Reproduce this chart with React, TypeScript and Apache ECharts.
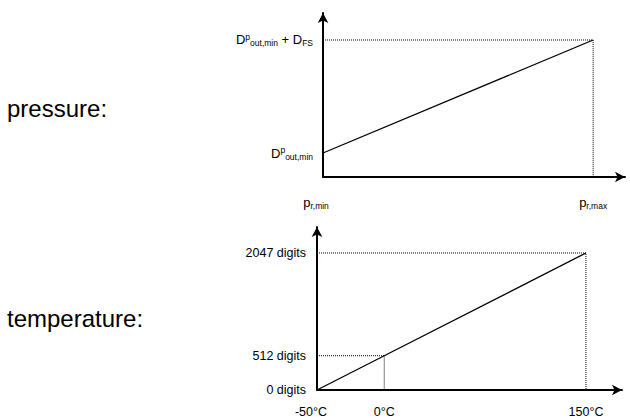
import React, { useEffect, useRef } from "react";
import * as echarts from "echarts";

// Section captions
const sectionLabels = ["pressure:", "temperature:"];

// Pressure chart (schematic units: x in span of p_r, y in span of D_FS)
const pressureXValues = [0, 1]; // p_r,min , p_r,max
const pressureXLabels = ["{m|p}{subL|r,min}", "{m|p}{sub|r,max}"];
const pressureYValues = [0.175, 1]; // D^p_out,min , D^p_out,min + D_FS
const pressureYLabels = [
  "{m|D}{sup|p}{sub|out,min}",
  "{m|D}{sup|p}{sub|out,min}{m| + D}{sub|FS}",
];
const pressureLineX = [0, 1];
const pressureLineY = [0.175, 1];

// Temperature chart
const tempXValues = [-50, 0, 150];
const tempXLabels = ["-50°C", "0°C", "150°C"];
const tempYValues = [0, 512, 2047];
const tempYLabels = ["0 digits", "512 digits", "2047 digits"];
const tempLineX = [-50, 0, 150];
const tempLineY = [0, 512, 2047];

const FONT = "'Liberation Sans', Arial, Helvetica, sans-serif";

export default function App() {
  const ref = useRef<HTMLDivElement>(null);

  useEffect(() => {
    document.body.style.margin = "0";
    const chart = echarts.init(ref.current!, null, { renderer: "svg" });

    const axisLine = {
      show: true,
      onZero: false,
      symbol: ["none", "arrow"],
      symbolSize: [8, 10],
      lineStyle: { color: "#000", width: 2 },
    };

    const rich = {
      m: { fontSize: 13, color: "#000", fontFamily: FONT },
      sup: { fontSize: 8.5, color: "#000", fontFamily: FONT, padding: [0, 0, 6, 0] },
      sub: { fontSize: 8.5, color: "#000", fontFamily: FONT, padding: [7, 0, 0, 0] },
      subL: { fontSize: 8.5, color: "#000", fontFamily: FONT, padding: [7, 14, 0, 0] },
      t: { fontSize: 12.5, color: "#000", fontFamily: FONT },
      tL: { fontSize: 12.5, color: "#000", fontFamily: FONT, padding: [0, 12, 0, 0] },
    };

    const dotted = { color: "#000", width: 1, type: "dotted" as const };
    const solid = { color: "#000", width: 1.3 };

    const pLine = pressureLineX.map((x, i) => [x, pressureLineY[i]]);
    const tLine = tempLineX.map((x, i) => [x, tempLineY[i]]);

    const pTop = pressureYValues[1];
    const pMaxX = pressureXValues[1];

    chart.setOption({
      animation: false,
      textStyle: { fontFamily: FONT, color: "#000" },
      graphic: [
        {
          type: "text",
          left: 7,
          top: 96,
          style: { text: sectionLabels[0], fontSize: 24, fontFamily: FONT, fill: "#000" },
        },
        {
          type: "text",
          left: 7,
          top: 306,
          style: { text: sectionLabels[1], fontSize: 24, fontFamily: FONT, fill: "#000" },
        },
      ],
      grid: [
        { left: 323, top: 13, width: 302, height: 164 },
        { left: 317, top: 227, width: 305, height: 163 },
      ],
      xAxis: [
        {
          gridIndex: 0,
          type: "value",
          min: 0,
          max: 1.118,
          axisLine,
          axisTick: { show: false },
          splitLine: { show: false },
          axisLabel: {
            customValues: pressureXValues,
            margin: 17,
            rich,
            formatter: (v: number) => pressureXLabels[pressureXValues.indexOf(v)] ?? "",
          },
        },
        {
          gridIndex: 1,
          type: "value",
          min: -50,
          max: 176.8,
          axisLine,
          axisTick: { show: false },
          splitLine: { show: false },
          axisLabel: {
            customValues: tempXValues,
            margin: 15,
            rich,
            formatter: (v: number) => {
              const i = tempXValues.indexOf(v);
              if (i < 0) return "";
              return i === 0 ? `{tL|${tempXLabels[i]}}` : `{t|${tempXLabels[i]}}`;
            },
          },
        },
      ],
      yAxis: [
        {
          gridIndex: 0,
          type: "value",
          min: 0,
          max: 1.197,
          axisLine,
          axisTick: { show: false },
          splitLine: { show: false },
          axisLabel: {
            customValues: pressureYValues,
            margin: 10,
            rich,
            formatter: (v: number) => pressureYLabels[pressureYValues.indexOf(v)] ?? "",
          },
        },
        {
          gridIndex: 1,
          type: "value",
          min: 0,
          max: 2435,
          axisLine,
          axisTick: { show: false },
          splitLine: { show: false },
          axisLabel: {
            customValues: tempYValues,
            margin: 11,
            rich,
            formatter: (v: number) => {
              const i = tempYValues.indexOf(v);
              return i < 0 ? "" : `{t|${tempYLabels[i]}}`;
            },
          },
        },
      ],
      series: [
        {
          type: "line",
          xAxisIndex: 0,
          yAxisIndex: 0,
          symbol: "none",
          silent: true,
          lineStyle: dotted,
          data: [
            [pressureXValues[0], pTop],
            [pMaxX, pTop],
            [pMaxX, 0],
          ],
          z: 1,
        },
        {
          type: "line",
          xAxisIndex: 0,
          yAxisIndex: 0,
          symbol: "none",
          silent: true,
          lineStyle: solid,
          data: pLine,
          z: 3,
        },
        {
          type: "line",
          xAxisIndex: 1,
          yAxisIndex: 1,
          symbol: "none",
          silent: true,
          lineStyle: dotted,
          data: [
            [tempXValues[0], tempYValues[2]],
            [tempXValues[2], tempYValues[2]],
            [tempXValues[2], 0],
          ],
          z: 1,
        },
        {
          type: "line",
          xAxisIndex: 1,
          yAxisIndex: 1,
          symbol: "none",
          silent: true,
          lineStyle: dotted,
          data: [
            [tempXValues[0], tempYValues[1]],
            [tempXValues[1], tempYValues[1]],
            [tempXValues[1], 0],
          ],
          z: 1,
        },
        {
          type: "line",
          xAxisIndex: 1,
          yAxisIndex: 1,
          symbol: "none",
          silent: true,
          lineStyle: solid,
          data: tLine,
          z: 3,
        },
      ],
    });

    return () => chart.dispose();
  }, []);

  return <div ref={ref} style={{ width: 630, height: 420 }} />;
}
